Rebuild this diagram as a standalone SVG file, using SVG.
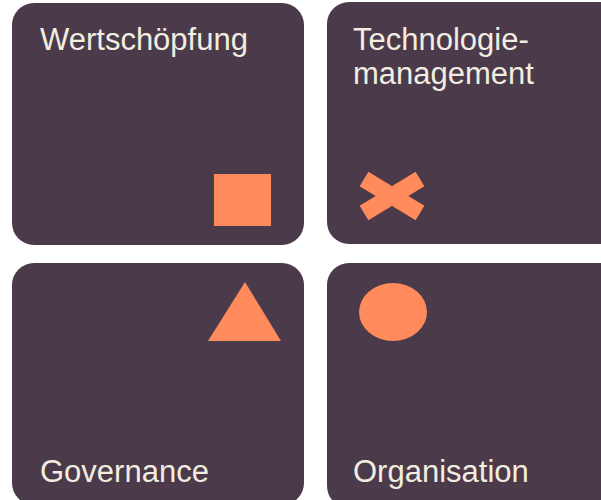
<svg xmlns="http://www.w3.org/2000/svg" width="601" height="500" viewBox="0 0 601 500">
<style>
.box{fill:#4b3a4a}
.shape{fill:#ff8a5c}
.xbar{stroke:#ff8a5c;stroke-width:17;stroke-linecap:butt;fill:none}
.lbl{font-family:"Liberation Sans",Arial,sans-serif;font-size:31px;fill:#f1ede0}
</style>
<rect width="601" height="500" fill="#ffffff"/>
<g id="wertschoepfung">
<rect class="box" x="12" y="3" width="292" height="242" rx="22" ry="22"/>
<text class="lbl" x="40" y="50">Wertschöpfung</text>
<rect class="shape" x="214" y="174" width="57" height="52"/>
</g>
<g id="technologiemanagement">
<rect class="box" x="327" y="2" width="300" height="242" rx="22" ry="22"/>
<text class="lbl" x="353" y="50">Technologie-</text>
<text class="lbl" x="353" y="84">management</text>
<line class="xbar" x1="364" y1="179" x2="420" y2="213"/>
<line class="xbar" x1="364" y1="213" x2="420" y2="179"/>
</g>
<g id="governance">
<rect class="box" x="12" y="263" width="292" height="242" rx="22" ry="22"/>
<polygon class="shape" points="245,282 281,341 208,341"/>
<text class="lbl" x="40" y="482">Governance</text>
</g>
<g id="organisation">
<rect class="box" x="327" y="263" width="300" height="245" rx="22" ry="22"/>
<ellipse class="shape" cx="393" cy="312" rx="34" ry="29"/>
<text class="lbl" x="353" y="482">Organisation</text>
</g>
<g id="connectors"/>
</svg>
